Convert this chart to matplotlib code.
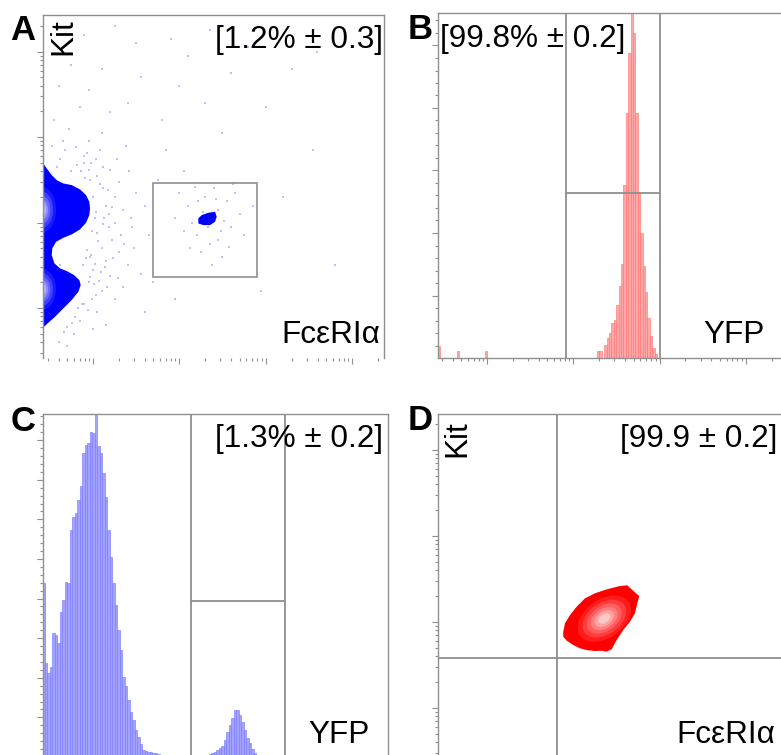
import matplotlib
matplotlib.use("Agg")
import matplotlib.pyplot as plt
import numpy as np
from matplotlib.patches import Polygon, Ellipse, Rectangle

plt.rcParams["font.family"] = ["Liberation Sans", "DejaVu Sans"]

W, H = 781, 755
GRAY = "#8f8f8f"

# ---------- data (fluorescence axes in log10 units) ----------
# A: Kit vs FceRIa, outline of the big blob at the left edge
a_blob_x = [0.30, 0.424, 0.463, 0.521, 0.579, 0.656, 0.753, 0.849, 0.919, 0.957, 0.965,
            0.957, 0.919, 0.849, 0.753, 0.656, 0.571, 0.528, 0.521, 0.552, 0.618, 0.695,
            0.780, 0.841, 0.857, 0.830, 0.753, 0.656, 0.560, 0.482, 0.432, 0.30]
a_blob_y = [2.692, 2.692, 2.634, 2.556, 2.497, 2.458, 2.439, 2.388, 2.322, 2.243, 2.166,
            2.088, 1.998, 1.920, 1.862, 1.822, 1.775, 1.698, 1.620, 1.523, 1.464, 1.433,
            1.386, 1.327, 1.269, 1.191, 1.094, 0.996, 0.898, 0.828, 0.781, 0.781]
a_lobe_y = [2.15, 1.22]          # centres of the two density lobes
a_lobe_half_h = [0.30, 0.27]
# mast cell cluster inside the gate
a_spot_x = [2.220, 2.260, 2.336, 2.414, 2.433, 2.414, 2.356, 2.278, 2.220]
a_spot_y = [2.049, 2.088, 2.115, 2.127, 2.068, 2.009, 1.971, 1.971, 1.990]
a_gate = [1.695, 2.90, 1.363, 2.462]   # x0, x1, y0, y1
a_dots_x = [1.05, 1.12, 0.98, 1.20, 1.30, 1.08, 0.90, 1.15, 1.25, 1.02, 1.35, 1.18, 1.42, 1.50,
            0.95, 1.10, 0.80, 0.72, 1.28, 1.38, 1.05, 1.22, 1.45, 1.60, 1.10, 0.98, 1.15, 1.30,
            1.00, 1.20, 1.40, 0.95, 1.10, 1.25, 0.90, 1.05, 0.85, 1.00, 0.78, 1.35, 1.55, 1.48,
            0.60, 0.70, 1.15, 1.65, 1.75, 1.70, 0.65, 0.55, 0.85, 1.20, 0.60, 0.95, 1.40, 0.75,
            1.10, 1.55, 1.80, 2.00, 2.30, 2.10, 2.60, 1.90, 2.80, 3.30, 3.00, 2.50, 1.85, 2.05,
            3.60, 2.35, 1.50, 0.90, 1.25, 3.55, 3.20, 3.80, 2.95, 1.95, 1.60, 0.58, 0.62, 0.55,
            2.10, 2.20, 2.30, 2.45, 2.55, 2.60, 2.15, 2.40, 2.25, 2.50, 2.70, 2.05, 2.35, 2.65,
            2.00, 2.45, 2.28, 2.52, 2.18, 2.75, 1.95, 2.38, 2.62, 2.12, 2.85, 2.33, 2.48, 2.22,
            2.58, 2.42,
            1.00, 1.03, 1.08, 1.13, 1.17, 1.22, 0.99, 1.06, 1.11, 0.97, 1.02, 1.09, 0.93, 0.96,
            1.01, 1.04, 0.88, 0.92, 0.87, 0.94, 0.99, 1.07, 1.14, 0.91, 0.95, 1.03, 0.86, 0.89,
            0.93, 0.97, 1.12, 1.19, 1.26, 1.32, 0.83, 0.79, 0.76, 0.70, 0.66, 0.62, 0.68, 0.74,
            0.81, 0.58, 0.52, 1.16, 1.23, 1.29, 1.36, 1.44]
a_dots_y = [2.55, 2.40, 2.70, 2.62, 2.48, 2.85, 2.78, 2.20, 2.30, 2.05, 2.15, 1.95, 2.60, 2.35,
            2.95, 3.05, 2.88, 3.10, 2.75, 2.90, 1.88, 1.80, 1.95, 2.20, 1.70, 1.62, 1.55, 1.65,
            1.45, 1.38, 1.50, 1.30, 1.20, 1.10, 1.05, 0.95, 0.85, 0.75, 0.70, 1.25, 1.40, 1.70,
            0.60, 0.55, 0.80, 1.85, 2.50, 1.30, 2.95, 3.20, 3.35, 3.30, 3.60, 3.55, 3.40, 3.85,
            3.80, 3.70, 3.20, 3.60, 3.40, 3.95, 3.75, 4.15, 4.05, 3.80, 3.35, 3.05, 2.85, 2.60,
            4.00, 4.25, 4.10, 4.20, 4.30, 2.85, 2.30, 1.50, 1.20, 1.10, 0.95, 1.90, 1.50, 2.50,
            2.20, 1.85, 2.30, 1.80, 2.25, 1.95, 2.00, 2.40, 1.65, 1.60, 2.10, 1.90, 1.75, 2.35,
            2.35, 2.15, 2.12, 2.02, 2.42, 1.85, 2.05, 1.50, 2.45, 1.70, 2.20, 1.95, 1.90, 2.25,
            1.72, 2.28,
            2.30, 2.12, 2.45, 2.05, 2.38, 2.18, 1.90, 1.78, 1.98, 1.60, 1.52, 1.42, 1.68, 1.36,
            1.28, 1.15, 1.50, 1.58, 1.05, 0.98, 1.10, 1.32, 1.48, 2.52, 2.62, 2.75, 2.60, 2.70,
            2.82, 2.50, 2.65, 2.10, 2.00, 1.85, 1.00, 0.90, 0.82, 0.78, 0.72, 2.75, 2.85, 2.60,
            2.68, 2.65, 2.90, 1.25, 1.58, 1.35, 1.75, 2.05]

# B: YFP histogram (sorted cells)
b_bin_start, b_bin_step = 2.290, 0.0278
b_counts = [0.11, 0.11, 0.0, 0.21, 0.32, 0.40, 0.56, 0.61, 0.85, 1.15, 1.50, 2.77, 3.92,
            4.88, 5.80, 5.20, 3.92, 2.64, 2.00, 1.47, 1.06, 0.64, 0.35, 0.16, 0.06]
b_stray_x = [0.444, 0.664, 0.988]
b_stray_counts = [0.19, 0.11, 0.11]
b_gate = [1.915, 3.005, 2.64]          # x0, x1, bracket height

# C: YFP histogram (unsorted)
c_bin_start, c_bin_step = 0.424, 0.029
c_counts = [4.39, 2.37, 2.11, 2.28, 3.12, 3.08, 2.87, 3.67, 3.96, 4.43, 4.39, 5.73, 6.07,
            6.15, 6.49, 6.83, 7.67, 7.88, 7.92, 8.21, 8.17, 8.66, 7.84, 7.67, 7.16, 6.57,
            5.73, 5.06, 4.39, 3.84, 3.21, 2.70, 2.03, 1.78, 1.44, 1.14, 0.93, 0.68, 0.51,
            0.33, 0.18, 0.16, 0.13, 0.12, 0.11, 0.09, 0.08]
c_pos_start = 2.356
c_pos_counts = [0.08, 0.10, 0.13, 0.18, 0.23, 0.28, 0.43, 0.63, 0.81, 0.98, 1.19, 1.19,
                1.06, 0.88, 0.68, 0.48, 0.35, 0.20, 0.10, 0.05]
c_gate = [2.136, 3.225, 3.94]

# D: Kit vs FceRIa of sorted cells
d_blob_x = [1.884, 1.904, 1.962, 2.039, 2.136, 2.251, 2.387, 2.541, 2.626, 2.695, 2.765,
            2.742, 2.715, 2.657, 2.579, 2.503, 2.445, 2.387, 2.329, 2.251, 2.155, 2.078,
            2.000, 1.924, 1.884]
d_blob_y = [1.887, 1.985, 2.081, 2.178, 2.276, 2.334, 2.380, 2.419, 2.427, 2.364, 2.302,
            2.217, 2.101, 2.003, 1.907, 1.791, 1.683, 1.655, 1.666, 1.663, 1.674, 1.694,
            1.733, 1.783, 1.829]
d_peak = (2.36, 2.04)
d_levels = [0.86, 0.70, 0.56, 0.43, 0.31, 0.19]
d_level_colors = ["#ff1c1c", "#ff3d3d", "#ff5e5e", "#ff8080", "#ffa3a3", "#ffc8c8"]
d_gate = [1.81, 1.58]

fig = plt.figure(figsize=(W / 100, H / 100), dpi=100)


def px_axes(l, t, r, b):
    return fig.add_axes([l / W, 1 - b / H, (r - l) / W, (b - t) / H])


def style(ax, spines):
    for side, sp in ax.spines.items():
        sp.set_visible(side in spines)
        sp.set_color(GRAY)
        sp.set_linewidth(1.0)
    ax.tick_params(which="both", direction="out", color=GRAY, width=0.8,
                   labelbottom=False, labelleft=False)
    ax.tick_params(which="major", length=4)
    ax.tick_params(which="minor", length=2)


def log_ticks(lo, hi):
    majors = [d for d in range(0, 6) if lo <= d <= hi]
    minors = [d + np.log10(k) for d in range(0, 5) for k in range(2, 10)
              if lo <= d + np.log10(k) <= hi]
    return majors, minors


def set_log(ax, axis, lo, hi):
    majors, minors = log_ticks(lo, hi)
    if axis == "x":
        ax.set_xlim(lo, hi)
        ax.set_xticks(majors)
        ax.set_xticks(minors, minor=True)
    else:
        ax.set_ylim(lo, hi)
        ax.set_yticks(majors)
        ax.set_yticks(minors, minor=True)


def set_lin_y(ax, top, nmaj):
    ax.set_ylim(0, top)
    ax.set_yticks(range(1, nmaj + 1))
    ax.set_yticks([m / 5 for m in range(1, int(top * 5) + 1) if m % 5], minor=True)


def ftext(x, y, s, **kw):
    fig.text(x / W, 1 - y / H, s, **kw)


# ---------- A ----------
axA = px_axes(43, 15, 384, 358)
style(axA, ["left", "top", "right"])
set_log(axA, "x", 0.42, 4.372)
set_log(axA, "y", 0.415, 4.43)
axA.scatter(a_dots_x, a_dots_y, s=1.0, marker="s", color="#8080ff", alpha=0.5, linewidths=0)
axA.add_patch(Polygon(list(zip(a_blob_x, a_blob_y)), closed=True, color="#0000ff", lw=0))
for cy, hh in zip(a_lobe_y, a_lobe_half_h):
    for i, s in enumerate([0.9, 0.72, 0.56, 0.42, 0.3, 0.18]):
        c = 0.10 + 0.15 * i
        axA.add_patch(Ellipse((0.40, cy), 0.38 * s, 2 * hh * s, color=(c, c, 1.0), lw=0))
axA.add_patch(Polygon(list(zip(a_spot_x, a_spot_y)), closed=True, color="#0000ff", lw=0))
axA.add_patch(Rectangle((a_gate[0], a_gate[2]), a_gate[1] - a_gate[0], a_gate[3] - a_gate[2],
                        fill=False, ec=GRAY, lw=1.2))

# ---------- B ----------
axB = px_axes(438, 13, 782, 358)
style(axB, ["left", "top", "bottom"])
set_log(axB, "x", 0.432, 4.42)
set_lin_y(axB, 5.52, 5)
b_x = b_bin_start + b_bin_step * np.arange(len(b_counts))
axB.bar(b_x, b_counts, width=b_bin_step, color="#ffa8a8", edgecolor="#ff6e6e", linewidth=0.4)
axB.bar(b_stray_x, b_stray_counts, width=b_bin_step, color="#ffa8a8", edgecolor="#ff6e6e",
        linewidth=0.4)
axB.vlines(b_gate[:2], 0, 5.52, color=GRAY, lw=1.3)
axB.hlines(b_gate[2], b_gate[0], b_gate[1], color=GRAY, lw=1.3)

# ---------- C ----------
axC = px_axes(43, 414, 388, 757)
style(axC, ["left", "top", "right"])
axC.set_xlim(0.42, 4.418)
axC.set_xticks([])
set_lin_y(axC, 8.66, 8)
c_x = c_bin_start + c_bin_step * np.arange(len(c_counts))
c_x2 = c_pos_start + c_bin_step * np.arange(len(c_pos_counts))
for xs, ys in [(c_x, c_counts), (c_x2, c_pos_counts)]:
    axC.bar(xs, ys, width=c_bin_step, color="#a3a3ff", edgecolor="#7373ff", linewidth=0.4)
axC.vlines(c_gate[:2], 0, 8.66, color=GRAY, lw=1.3)
axC.hlines(c_gate[2], c_gate[0], c_gate[1], color=GRAY, lw=1.3)

# ---------- D ----------
axD = px_axes(438, 414, 782, 757)
style(axD, ["left", "top"])
axD.set_xlim(0.432, 4.42)
axD.set_xticks([])
set_log(axD, "y", 0.43, 4.42)
axD.add_patch(Polygon(list(zip(d_blob_x, d_blob_y)), closed=True, color="#ff0000", lw=0))
for s, col in zip(d_levels, d_level_colors):
    axD.add_patch(Ellipse(d_peak, 0.80 * s, 0.52 * s, angle=35, color=col, lw=0))
axD.axvline(d_gate[0], color=GRAY, lw=1.3)
axD.axhline(d_gate[1], color=GRAY, lw=1.3)

# ---------- text ----------
fs = 22.7
ftext(383, 48, "[1.2% ± 0.3]", fontsize=fs, ha="right", va="baseline")
ftext(440, 47, "[99.8% ± 0.2]", fontsize=fs, ha="left", va="baseline")
ftext(383, 447, "[1.3% ± 0.2]", fontsize=fs, ha="right", va="baseline")
ftext(777, 447, "[99.9 ± 0.2]", fontsize=fs, ha="right", va="baseline")
ftext(380, 343, "FcεRIα", fontsize=fs, ha="right", va="baseline")
ftext(775, 743, "FcεRIα", fontsize=fs, ha="right", va="baseline")
ftext(765, 343, "YFP", fontsize=fs, ha="right", va="baseline")
ftext(370, 743, "YFP", fontsize=fs, ha="right", va="baseline")
ftext(78, 55, "Kit", fontsize=fs, rotation=90, ha="right", va="bottom")
ftext(472, 457, "Kit", fontsize=fs, rotation=90, ha="right", va="bottom")

for lab, x, y in [("A", 10, 40), ("B", 408, 39), ("C", 11, 431), ("D", 408, 430)]:
    ftext(x, y, lab, fontsize=25, fontweight="bold", ha="left", va="baseline")

fig.savefig("out.png", dpi=100)
